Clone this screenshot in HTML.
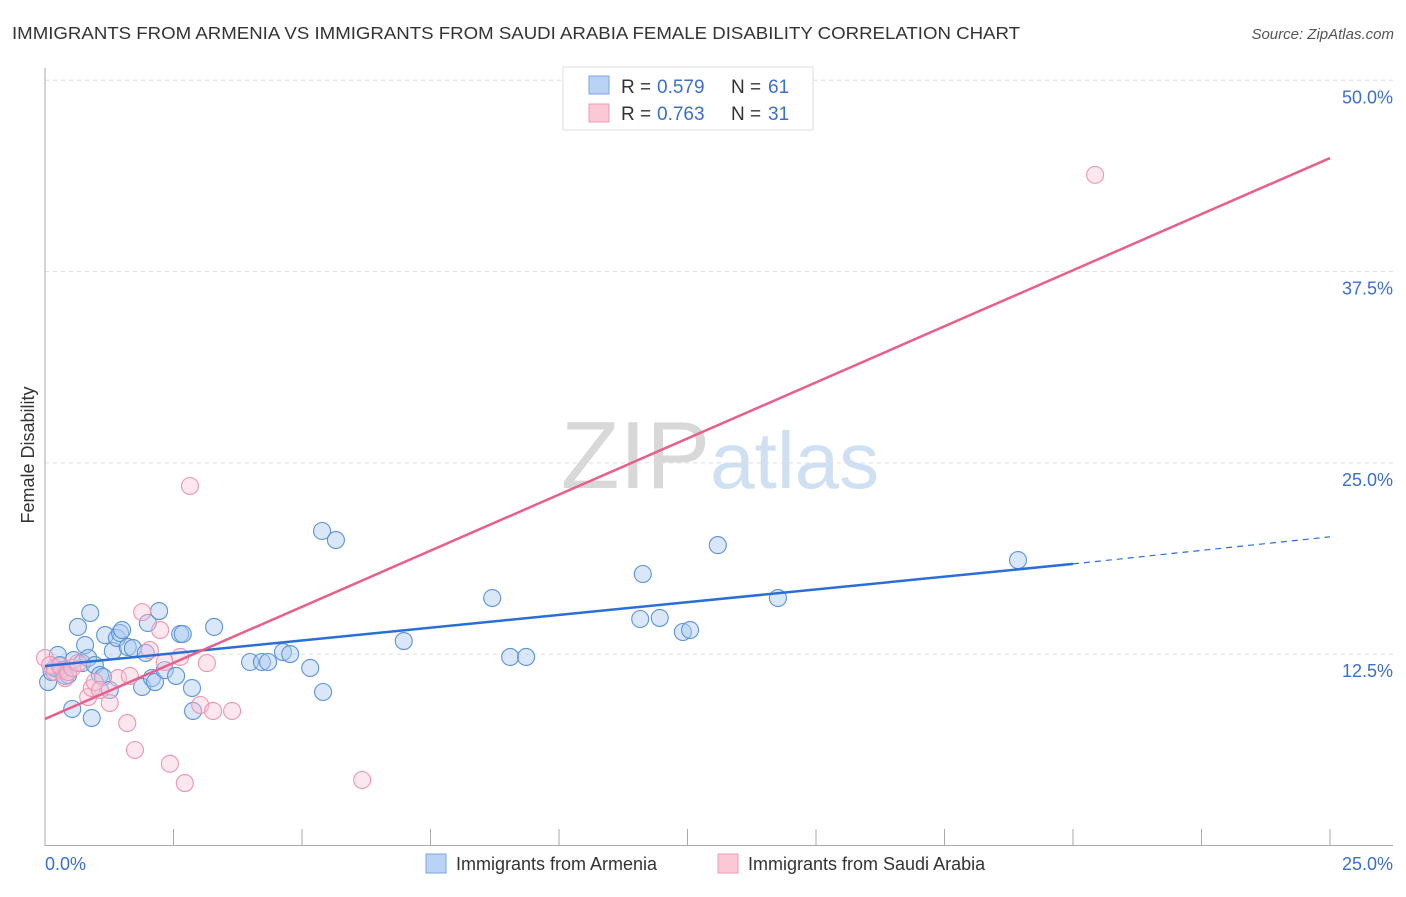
<!DOCTYPE html>
<html><head><meta charset="utf-8"><style>
body{margin:0;background:#fff;font-family:"Liberation Sans",sans-serif}
svg text{font-family:"Liberation Sans",sans-serif}
</style></head><body>
<svg id="chart" width="1406" height="892" xmlns="http://www.w3.org/2000/svg">
<text x="12" y="39" font-size="17.5" fill="#333" textLength="1008" lengthAdjust="spacingAndGlyphs">IMMIGRANTS FROM ARMENIA VS IMMIGRANTS FROM SAUDI ARABIA FEMALE DISABILITY CORRELATION CHART</text>
<text x="1394" y="39" font-size="15" fill="#555" font-style="italic" text-anchor="end">Source: ZipAtlas.com</text>
<text x="720" y="488" font-size="96" fill="#ddd" text-anchor="middle" font-family="Liberation Serif"><tspan fill="#d8d8d8">ZIP</tspan><tspan fill="#cfe0f3" font-family="Liberation Sans" font-size="80">atlas</tspan></text>
<g id="grid"></g><g id="axes"></g><g id="pts"></g><g id="lines"></g>
<text transform="translate(34,455) rotate(-90)" font-size="18" fill="#333" text-anchor="middle">Female Disability</text>
<g>
<rect x="563" y="67" width="250" height="63" fill="#fff" stroke="#ddd"/>
<rect x="589" y="76" width="20" height="18" fill="#b8d3f5" stroke="#7aa6e0"/>
<rect x="589" y="104" width="20" height="18" fill="#fbc8d6" stroke="#f09ab2"/>
<text x="621" y="93" font-size="19" fill="#333">R =</text>
<text x="657" y="93" font-size="19" fill="#3a6fd1">0.579</text>
<text x="731" y="93" font-size="19" fill="#333">N =</text>
<text x="768" y="93" font-size="19" fill="#3a6fd1">61</text>
<text x="621" y="120" font-size="19" fill="#333">R =</text>
<text x="657" y="120" font-size="19" fill="#3a6fd1">0.763</text>
<text x="731" y="120" font-size="19" fill="#333">N =</text>
<text x="768" y="120" font-size="19" fill="#3a6fd1">31</text>
</g>
<g>
<rect x="426" y="854" width="20" height="19" fill="#b8d3f5" stroke="#7aa6e0"/>
<text x="456" y="870" font-size="18" fill="#333">Immigrants from Armenia</text>
<rect x="718" y="854" width="20" height="19" fill="#fbc8d6" stroke="#f09ab2"/>
<text x="748" y="870" font-size="18" fill="#333">Immigrants from Saudi Arabia</text>
</g>
</svg>
<script>
const blueX=[0.06,0.13,0.19,0.25,0.29,0.33,0.39,0.45,0.53,0.56,0.64,0.72,0.78,0.84,0.88,0.91,0.97,1.07,1.13,1.17,1.26,1.32,1.40,1.46,1.50,1.61,1.71,1.89,1.96,2.00,2.08,2.14,2.22,2.33,2.55,2.63,2.68,2.86,2.88,3.29,3.99,4.22,4.34,4.63,4.77,5.16,5.39,5.41,5.66,6.98,8.70,9.05,9.36,11.63,11.58,11.96,12.41,12.55,13.09,14.26,18.93];
const blueY=[10.68,11.34,11.60,12.45,11.79,11.46,11.08,11.14,8.92,12.12,14.28,11.92,13.10,12.25,15.19,8.33,11.79,11.14,11.01,13.75,10.16,12.71,13.56,13.88,14.08,12.97,12.90,10.36,12.58,14.54,10.94,10.68,15.32,11.46,11.08,13.82,13.82,10.29,8.79,14.28,11.99,11.99,11.99,12.64,12.51,11.60,20.55,10.03,19.96,13.36,16.17,12.32,12.32,17.74,14.80,14.87,13.95,14.08,19.63,16.17,18.65];
const pinkX=[0,0.10,0.19,0.29,0.39,0.45,0.53,0.64,0.84,0.91,0.97,1.07,1.26,1.42,1.60,1.65,1.75,1.89,2.04,2.24,2.33,2.43,2.63,2.72,2.82,3.02,3.15,3.27,3.64,6.17,20.43];
const pinkY=[12.25,11.79,11.34,11.73,10.94,11.34,11.60,11.92,9.70,10.29,10.68,10.16,9.31,10.94,8.00,11.08,6.24,15.25,12.77,14.08,11.99,5.34,12.32,4.08,23.49,9.18,11.92,8.79,8.79,4.28,43.82];
const blueLine=[11.73,18.40,20.17];
const pinkLine=[8.27,44.92];
const xTicks=[0,2.5,5,7.5,10,12.5,15,17.5,20,22.5,25];
const yTicks=[12.5,25,37.5,50];
const NS="http://www.w3.org/2000/svg";
const X=v=>45+v/25*1285, Y=v=>845.5-v/12.5*191.3;
function mk(p,t,a){const e=document.createElementNS(NS,t);for(const k in a)e.setAttribute(k,a[k]);document.getElementById(p).appendChild(e);return e;}
yTicks.forEach(t=>{
 const l=mk('grid','line',{x1:45,x2:1393,y1:Y(t),y2:Y(t),stroke:'#ddd','stroke-dasharray':'4,4'});
 
 
 const tx=mk('grid','text',{x:1393,y:Y(t)+23,'font-size':18,fill:'#3a6fd1','text-anchor':'end'});
 tx.textContent=t.toFixed(1)+'%';
 
 
});
const ax=mk('axes','line',{x1:45,x2:45,y1:68,y2:846,stroke:'#aaa'});


const bx=mk('axes','line',{x1:45,x2:1393,y1:845.5,y2:845.5,stroke:'#aaa'});


xTicks.forEach(t=>{
 const l=mk('axes','line',{x1:X(t),x2:X(t),y1:829,y2:846,stroke:'#aaa'});
 
 
});
[[0,'start',45],[25,'end',1393]].forEach(([v,a,x])=>{
 const tx=mk('axes','text',{x:x,y:870,'font-size':18,fill:'#3a6fd1','text-anchor':a});
 tx.textContent=v.toFixed(1)+'%';
 
 
});
blueX.forEach((v,i)=>{
 const c=mk('pts','circle',{cx:X(v),cy:Y(blueY[i]),r:8.5,fill:'rgba(170,202,242,0.45)',stroke:'#5b93db','stroke-width':1.1});
 
 
});
pinkX.forEach((v,i)=>{
 const c=mk('pts','circle',{cx:X(v),cy:Y(pinkY[i]),r:8.5,fill:'rgba(250,195,212,0.4)',stroke:'#ef94ae','stroke-width':1.1});
 
 
});
const bl=mk('lines','line',{x1:X(0),y1:Y(blueLine[0]),x2:X(20),y2:Y(blueLine[1]),stroke:'#2a6fd6','stroke-width':2.5});


const bd=mk('lines','line',{x1:X(20),y1:Y(blueLine[1]),x2:X(25),y2:Y(blueLine[2]),stroke:'#2a6fd6','stroke-width':1.2,'stroke-dasharray':'6,5'});


const pl=mk('lines','line',{x1:X(0),y1:Y(pinkLine[0]),x2:X(25),y2:Y(pinkLine[1]),stroke:'#e8608a','stroke-width':2.5});


</script>
</body></html>
